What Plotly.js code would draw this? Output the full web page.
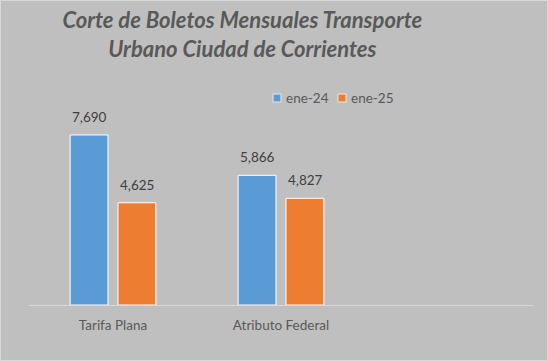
<!DOCTYPE html>
<html>
<head>
<meta charset="utf-8">
<script src="https://cdn.plot.ly/plotly-3.0.1.min.js"></script>
<style>
html,body{margin:0;padding:0;background:#bfbfbf;}
#chart{width:548px;height:361px;box-sizing:border-box;border:1px solid #d9d9d9;}
</style>
</head>
<body>
<div id="chart"></div>
<script>
const categories = ["Tarifa Plana", "Atributo Federal"];
const seriesNames = ["ene-24", "ene-25"];
const ene24 = [7690, 5866];
const ene25 = [4625, 4827];
const colors = ["#5b9bd5", "#ed7d31"];

const values = [ene24, ene25];
const traces = seriesNames.map((name, i) => ({
  type: "bar",
  name: name,
  x: categories,
  y: values[i],
  marker: {color: colors[i], line: {color: "#ffffff", width: 1}},
  hoverinfo: "none",
  showlegend: false
}));

// data labels built from the arrays
const annotations = [];
const offs = [-24, 24];
values.forEach((vals, i) => {
  vals.forEach((v, j) => {
    annotations.push({
      x: categories[j], y: v, xref: "x", yref: "y",
      text: v.toLocaleString("en-US"),
      showarrow: false, xanchor: "center", yanchor: "bottom",
      xshift: offs[i], yshift: 8,
      font: {family: "Lato, sans-serif", size: 13.5, color: "#404040"}
    });
  });
});

// custom legend (squares + text)
const legX = [273, 338];
const shapes = [];
seriesNames.forEach((name, i) => {
  shapes.push({
    type: "rect", xref: "paper", yref: "paper",
    x0: (legX[i] - 29) / 504, x1: (legX[i] + 8 - 29) / 504,
    y0: 1 + (106 - 102) / 199, y1: 1 + (106 - 94) / 199,
    fillcolor: colors[i], line: {color: "#e8e8e8", width: 1}
  });
  annotations.push({
    xref: "paper", yref: "paper",
    x: (legX[i] + 11 - 29) / 504, y: 1 + (106 - 98) / 199,
    xanchor: "left", yanchor: "middle", showarrow: false,
    text: name,
    font: {family: "Lato, sans-serif", size: 13.5, color: "#595959"}
  });
});

const layout = {
  width: 546,
  height: 359,
  paper_bgcolor: "#bfbfbf",
  plot_bgcolor: "#bfbfbf",
  margin: {l: 28, r: 14, t: 105, b: 55},
  barmode: "group",
  bargap: 0.43,
  bargroupgap: 0.21,
  title: {
    text: "<b><i>Corte de Boletos Mensuales Transporte<br>Urbano Ciudad de Corrientes</i></b>",
    x: 0.442, xanchor: "center", xref: "container",
    y: 0.925, yanchor: "middle", yref: "container",
    font: {family: "Lato, sans-serif", size: 22, color: "#595959"}
  },
  showlegend: false,
  annotations: annotations,
  shapes: shapes,
  xaxis: {
    type: "category",
    range: [-0.5, 2.5],
    showline: true, linecolor: "#d9d9d9", linewidth: 1,
    showgrid: false, zeroline: false,
    ticks: "",
    ticklabelstandoff: 8,
    tickfont: {family: "Lato, sans-serif", size: 13.5, color: "#595959"},
    fixedrange: true
  },
  yaxis: {
    range: [0, 9000],
    visible: false,
    showgrid: false, zeroline: false,
    fixedrange: true
  }
};

Plotly.newPlot("chart", traces, layout, {displayModeBar: false, staticPlot: true});
</script>
</body>
</html>
